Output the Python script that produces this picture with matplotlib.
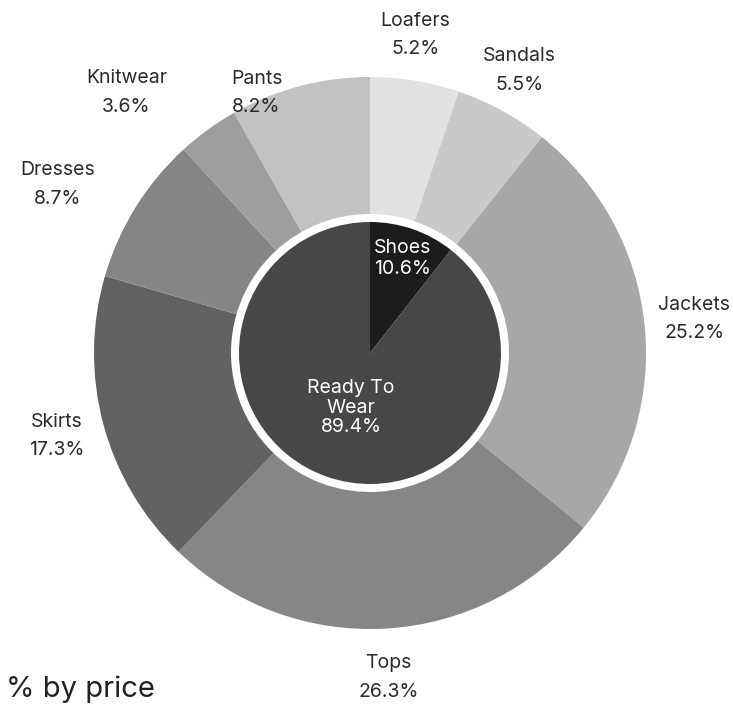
import matplotlib
matplotlib.use("Agg")
import matplotlib.pyplot as plt
import numpy as np

plt.rcParams['font.family'] = ['Inter', 'DejaVu Sans']

inner_labels = ["Shoes", "Ready To\nWear"]
inner_values = [10.6, 89.4]
inner_colors = ["#1c1c1c", "#474747"]

outer_labels = ["Loafers", "Sandals", "Jackets", "Tops", "Skirts", "Dresses", "Knitwear", "Pants"]
outer_values = [5.2, 5.5, 25.2, 26.3, 17.3, 8.7, 3.6, 8.2]
outer_colors = ["#e2e2e2", "#c9c9c9", "#a7a7a7", "#868686", "#626262", "#858585", "#9e9e9e", "#c2c2c2"]

# label collision nudges (pixels, x right / y up)
label_nudge = {"Loafers": (-8, 5), "Sandals": (-9, 4), "Jackets": (-4, 0), "Tops": (-1, -8),
               "Skirts": (-2, -1), "Dresses": (-31, 1), "Knitwear": (-47, 4), "Pants": (-32, -47)}

W, H = 733, 712
fig = plt.figure(figsize=(W / 100, H / 100), dpi=100)
ax = fig.add_axes([0, 0, 1, 1])

cx, cy = 370, H - 353
R_out, R_ring_in, R_pie = 276, 139, 131

ax.pie(outer_values, colors=outer_colors, startangle=90, counterclock=False,
       radius=R_out, center=(cx, cy), frame=True,
       wedgeprops=dict(width=R_out - R_ring_in, linewidth=0))
ax.pie(inner_values, colors=inner_colors, startangle=90, counterclock=False,
       radius=R_pie, center=(cx, cy), frame=True,
       wedgeprops=dict(linewidth=0))
ax.set_xlim(0, W)
ax.set_ylim(0, H)
ax.set_aspect('equal')
ax.axis('off')

renderer = fig.canvas.get_renderer()
tot = sum(outer_values)
cum = 0
gap = 18
for lab, v in zip(outer_labels, outer_values):
    mid = np.radians(90 - (cum + v / 2) / tot * 360)
    cum += v
    t = ax.text(0, 0, f"{lab}\n{v:.1f}%", ha='center', va='center', fontsize=14,
                color='#2b2b2b', linespacing=1.75)
    bb = t.get_window_extent(renderer)
    w, h = bb.width, bb.height
    c, s = np.cos(mid), np.sin(mid)
    x = cx + (R_out + gap) * c + w / 2 * c
    y = cy + (R_out + gap) * s + h / 2 * s
    nx, ny = label_nudge.get(lab, (0, 0))
    t.set_position((x + nx, y + ny))

tot_i = sum(inner_values)
cum = 0
dists = [100, 58]
spacings = [1.25, 1.12]
for lab, v, d, ls in zip(inner_labels, inner_values, dists, spacings):
    mid = np.radians(90 - (cum + v / 2) / tot_i * 360)
    cum += v
    x = cx + d * np.cos(mid)
    y = cy + d * np.sin(mid)
    ax.text(x, y, f"{lab}\n{v:.1f}%", ha='center', va='center', fontsize=14,
            color='white', linespacing=ls)

ax.text(6, H - 697, "% by price", ha='left', va='baseline', fontsize=21, color='#222222')

fig.savefig("out.png", dpi=100)
